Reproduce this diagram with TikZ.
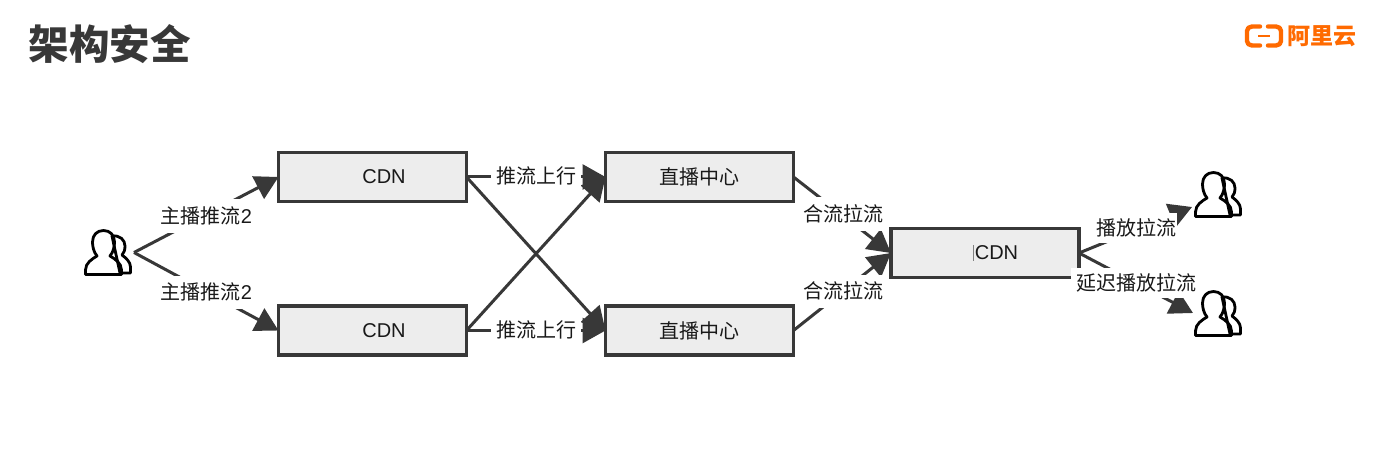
\documentclass[tikz,border=0pt]{standalone}
\usepackage{fontspec}
\setmainfont{Liberation Sans}
\newfontfamily\cjk{Noto Sans CJK SC}
\usetikzlibrary{arrows.meta}
\definecolor{ink}{HTML}{383838}
\definecolor{boxfill}{HTML}{EDEDED}
\definecolor{aliorange}{HTML}{FF6A00}
\tikzset{
  x=1pt,y=-1pt,
  boxnode/.style={draw=ink,fill=boxfill,line width=3.2pt,minimum width=188pt,minimum height=49pt,inner sep=0pt,outer sep=0pt,font=\fontsize{20}{22}\selectfont,text=black!90},
  usernode/.style={minimum width=50pt,minimum height=47pt,inner sep=0pt,outer sep=0pt},
  link/.style={draw=ink,line width=3pt,-{Triangle[length=23pt,width=25pt]}},
  edgelabel/.style={fill=white,inner xsep=5pt,inner ysep=0pt,minimum height=33pt,font=\fontsize{20}{22}\selectfont,text=black!90},
  playlabel/.style={edgelabel,minimum height=30pt},
}
\newcommand{\usersicon}[2]{%
  \begin{scope}[shift={(#1,#2)},line width=2.8pt,line join=round,draw=black,fill=white]
    \draw (28,7) .. controls (36,6) and (41,11) .. (41,17) .. controls (41,21) and (40,24) .. (38,26)
      .. controls (42,29) and (46.5,33) .. (46.5,38) -- (46.5,44) -- (36,44) -- cycle;
    \draw (1.5,45.5) -- (1.5,41) .. controls (1.5,34) and (8,30) .. (13,27)
      .. controls (9.5,23) and (8.5,17) .. (8.5,13) .. controls (8.5,6) and (13,1.5) .. (19.5,1.5)
      .. controls (26,1.5) and (30.5,6) .. (30.5,13) .. controls (30.5,17) and (29.5,23) .. (26,27)
      .. controls (31,30) and (37.5,34) .. (37.5,41) -- (37.5,45.5) -- cycle;
  \end{scope}}
\begin{document}
\begin{tikzpicture}
\useasboundingbox[fill=white] (0,0) rectangle (1393,468);
% title
\node[anchor=center,text=black!78,font=\fontsize{40.5}{44}\selectfont\cjk\bfseries,inner sep=0pt] (title) at (109.5,44) {架构安全};
% logo
\begin{scope}[draw=aliorange,line width=4.4pt,line join=round,line cap=round]
  \draw (1260,26.5) -- (1252,26.5) .. controls (1249,26.5) and (1247,28.5) .. (1247,31) -- (1247,41) .. controls (1247,43.5) and (1249,45.5) .. (1252,45.5) -- (1260,45.5);
  \draw (1268,26.5) -- (1276,26.5) .. controls (1279,26.5) and (1281,28.5) .. (1281,31) -- (1281,41) .. controls (1281,43.5) and (1279,45.5) .. (1276,45.5) -- (1268,45.5);
  \draw[line width=2pt,line cap=butt] (1258,36) -- (1270,36);
\end{scope}
\node[text=aliorange,font=\fontsize{23}{25}\selectfont\cjk\bfseries,inner sep=0pt] (logotext) at (1322,36) {阿里云};
% people
\node[usernode] (u1) at (109,252.5) {};
\node[usernode] (u2) at (1219,194.5) {};
\node[usernode] (u3) at (1219,313.5) {};
\usersicon{84}{229}
\usersicon{1194}{171}
\usersicon{1194}{290}
% boxes
\node[boxnode] (c1) at (372.5,177) {\hspace*{23pt}CDN};
\node[boxnode] (c2) at (372.5,330.5) {\hspace*{23pt}CDN};
\node[boxnode] (z1) at (699.5,177) {\cjk 直播中心};
\node[boxnode] (z2) at (699.5,330.5) {\cjk 直播中心};
\node[boxnode] (c3) at (985,253) {\hspace*{23pt}CDN};
\draw[gray,line width=.6pt] (973,245) -- (973,261);
% connectors
\coordinate (t2) at (1192,207);
\coordinate (t3) at (1193,313);
\draw[link] (u1.east) -- (c1.west);
\draw[link] (u1.east) -- (c2.west);
\draw[link] (c1.east) -- (z1.west);
\draw[link] (c1.east) -- (z2.west);
\draw[link] (c2.east) -- (z1.west);
\draw[link] (c2.east) -- (z2.west);
\draw[link] (z1.east) -- (c3.west);
\draw[link] (z2.east) -- (c3.west);
\draw[link] (c3.east) -- (t2);
\draw[link] (c3.east) -- (t3);
% labels
\node[edgelabel] (l1) at (206.5,216) {\cjk 主播推流\normalfont 2};
\node[edgelabel] (l2) at (206.5,292) {\cjk 主播推流\normalfont 2};
\node[edgelabel] (l3) at (536,176) {\cjk 推流上行};
\node[edgelabel] (l4) at (536,330) {\cjk 推流上行};
\node[edgelabel] (l5) at (843,214) {\cjk 合流拉流};
\node[edgelabel] (l6) at (843,291) {\cjk 合流拉流};
\node[playlabel,inner xsep=1pt] (l7) at (1136,228) {\cjk 播放拉流};
\node[playlabel] (l8) at (1136,283) {\cjk 延迟播放拉流};
\end{tikzpicture}
\end{document}
